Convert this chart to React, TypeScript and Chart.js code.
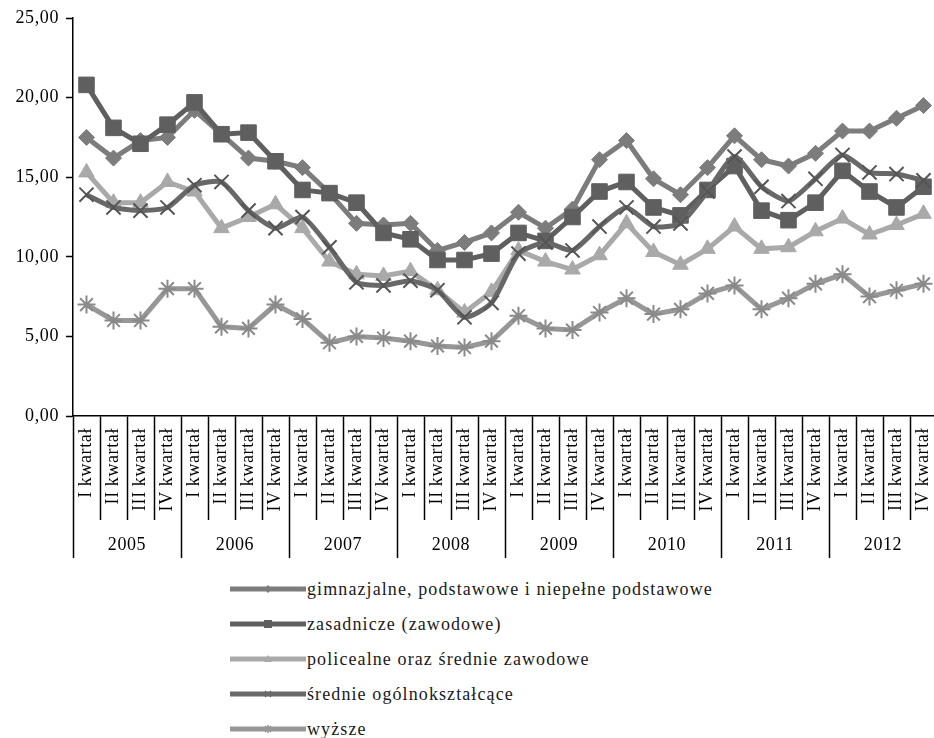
import React, { useEffect, useRef } from "react";
import { Chart, registerables } from "chart.js";

Chart.register(...registerables);

const quarters = ["I kwartał", "II kwartał", "III kwartał", "IV kwartał"];
const years = ["2005", "2006", "2007", "2008", "2009", "2010", "2011", "2012"];
const categoryLabels = years.flatMap(() => quarters);

const gimnazjalne = [17.5, 16.2, 17.3, 17.5, 19.2, 17.7, 16.2, 16.0, 15.6, 14.0, 12.1, 12.0, 12.1, 10.4, 10.9, 11.5, 12.8, 11.8, 13.0, 16.1, 17.3, 14.9, 13.9, 15.6, 17.6, 16.1, 15.7, 16.5, 17.9, 17.9, 18.7, 19.5];
const zasadnicze = [20.8, 18.1, 17.1, 18.3, 19.7, 17.7, 17.8, 16.0, 14.2, 14.0, 13.4, 11.5, 11.1, 9.8, 9.8, 10.2, 11.5, 11.0, 12.5, 14.1, 14.7, 13.1, 12.6, 14.2, 15.7, 12.9, 12.3, 13.4, 15.4, 14.1, 13.1, 14.4];
const policealne = [15.3, 13.4, 13.4, 14.7, 14.1, 11.8, 12.5, 13.3, 11.8, 9.7, 8.9, 8.8, 9.1, 7.9, 6.5, 7.8, 10.4, 9.7, 9.2, 10.1, 12.1, 10.3, 9.5, 10.5, 11.9, 10.5, 10.6, 11.6, 12.4, 11.4, 12.0, 12.7];
const srednieOgolne = [13.9, 13.1, 12.9, 13.1, 14.5, 14.7, 12.9, 11.8, 12.5, 10.6, 8.4, 8.2, 8.5, 7.9, 6.2, 7.1, 10.2, 10.9, 10.4, 11.9, 13.1, 11.9, 12.1, 14.1, 16.3, 14.4, 13.5, 14.9, 16.4, 15.3, 15.2, 14.8];
const wyzsze = [7.0, 6.0, 6.0, 8.0, 8.0, 5.6, 5.5, 7.0, 6.1, 4.6, 5.0, 4.9, 4.7, 4.4, 4.3, 4.7, 6.3, 5.5, 5.4, 6.5, 7.4, 6.4, 6.7, 7.7, 8.2, 6.7, 7.4, 8.3, 8.9, 7.5, 7.9, 8.3];

const seriesNames = [
  "gimnazjalne, podstawowe i niepełne podstawowe",
  "zasadnicze (zawodowe)",
  "policealne oraz średnie zawodowe",
  "średnie ogólnokształcące",
  "wyższe",
];
const seriesColors = ["#7c7c7c", "#5f5f5f", "#a9a9a9", "#686868", "#979797"];
const seriesPoints = ["rectRot", "rect", "triangle", "crossRot", "star"];
const seriesRadius = [8, 11, 9, 10, 9];
const seriesValues = [gimnazjalne, zasadnicze, policealne, srednieOgolne, wyzsze];

const FONT = "'Liberation Serif', 'Times New Roman', serif";

function LegendMarker({ kind, color }: { kind: string; color: string }) {
  const cx = 38, cy = 7;
  let marker: React.ReactNode = null;
  if (kind === "rectRot") marker = <polygon points={`${cx},${cy - 4} ${cx + 4},${cy} ${cx},${cy + 4} ${cx - 4},${cy}`} fill={color} />;
  else if (kind === "rect") marker = <rect x={cx - 4} y={cy - 4} width={8} height={8} fill={color} />;
  else if (kind === "triangle") marker = <polygon points={`${cx},${cy - 4} ${cx + 4},${cy + 3} ${cx - 4},${cy + 3}`} fill={color} />;
  else if (kind === "crossRot") marker = <path d={`M${cx - 3},${cy - 3}L${cx + 3},${cy + 3}M${cx + 3},${cy - 3}L${cx - 3},${cy + 3}`} stroke={color} strokeWidth={1.5} />;
  else marker = <path d={`M${cx - 3},${cy - 3}L${cx + 3},${cy + 3}M${cx + 3},${cy - 3}L${cx - 3},${cy + 3}M${cx},${cy - 4}L${cx},${cy + 4}`} stroke={color} strokeWidth={1.5} />;
  return (
    <svg width={76} height={14} style={{ display: "block" }}>
      <line x1={0} y1={cy} x2={76} y2={cy} stroke={color} strokeWidth={5} />
      {marker}
    </svg>
  );
}

export default function App() {
  const canvasRef = useRef<HTMLCanvasElement | null>(null);

  useEffect(() => {
    if (!canvasRef.current) return;
    const tickFont = { family: FONT, size: 18 };
    const order = [4, 3, 2, 1, 0];
    const spacingPlugin = {
      id: "letterSpacing",
      beforeDraw: (c: any) => { try { c.ctx.letterSpacing = "0.6px"; } catch (e) {} },
    };
    const chart = new Chart(canvasRef.current, {
      type: "line",
      data: {
        labels: categoryLabels,
        datasets: seriesValues.map((vals, i) => ({
          label: seriesNames[i],
          data: vals,
          borderColor: seriesColors[i],
          backgroundColor: seriesColors[i],
          borderWidth: 5,
          tension: i === 3 ? 0.2 : 0,
          pointStyle: seriesPoints[i] as any,
          pointRadius: seriesRadius[i],
          pointBackgroundColor: seriesColors[i],
          pointBorderColor: i === 3 ? "#555555" : i === 4 ? "#8a8a8a" : seriesColors[i],
          pointBorderWidth: i >= 3 ? 2 : 1,
          order: order[i],
          xAxisID: "x",
          yAxisID: "y",
        })),
      },
      options: {
        animation: false,
        responsive: true,
        maintainAspectRatio: false,
        layout: { padding: { top: 18, bottom: 2, left: 0, right: 0 } },
        plugins: { legend: { display: false }, tooltip: { enabled: false } },
        scales: {
          x: {
            type: "category",
            position: "bottom",
            weight: 0,
            offset: true,
            grid: { offset: true, drawOnChartArea: false, drawTicks: true, tickLength: 104, tickWidth: 1.5, tickColor: "#000" },
            border: { display: true, color: "#000", width: 1.5 },
            ticks: { autoSkip: false, minRotation: 90, maxRotation: 90, padding: -92, color: "#000", font: tickFont },
            afterFit: (s: any) => { s.height = 104; },
          },
          x2: {
            type: "category",
            labels: years,
            position: "bottom",
            weight: 1,
            offset: true,
            grid: { offset: true, drawOnChartArea: false, drawTicks: true, tickLength: 38, tickWidth: 1.5, tickColor: "#000" },
            border: { display: false },
            ticks: { autoSkip: false, maxRotation: 0, minRotation: 0, padding: -24, color: "#000", font: { family: FONT, size: 18 } },
            afterFit: (s: any) => { s.height = 38; },
          },
          y: {
            min: 0,
            max: 25,
            grid: { drawOnChartArea: false, drawTicks: true, tickLength: 7, tickWidth: 1.5, tickColor: "#000" },
            border: { display: true, color: "#000", width: 1.5 },
            ticks: {
              stepSize: 5,
              padding: 7,
              color: "#000",
              font: tickFont,
              callback: (v: any) => Number(v).toFixed(2).replace(".", ","),
            },
            afterFit: (s: any) => { s.width = 73; },
          },
        },
      } as any,
      plugins: [spacingPlugin],
    });
    return () => chart.destroy();
  }, []);

  return (
    <div style={{ position: "absolute", left: 0, top: 0, width: 934, height: 738, background: "#fff", overflow: "hidden" }}>
      <div style={{ position: "absolute", left: 0, top: 0, width: 949, height: 560 }}>
        <canvas ref={canvasRef} />
      </div>
      {seriesNames.map((name, i) => (
        <div
          key={name}
          style={{
            position: "absolute",
            left: 230,
            top: 572 + i * 35,
            height: 34,
            display: "flex",
            alignItems: "center",
            fontFamily: FONT,
            fontSize: 18,
            color: "#1a1a1a",
            whiteSpace: "nowrap",
          }}
        >
          <LegendMarker kind={seriesPoints[i]} color={seriesColors[i]} />
          <span style={{ marginLeft: 1, letterSpacing: 1.1 }}>{name}</span>
        </div>
      ))}
    </div>
  );
}
